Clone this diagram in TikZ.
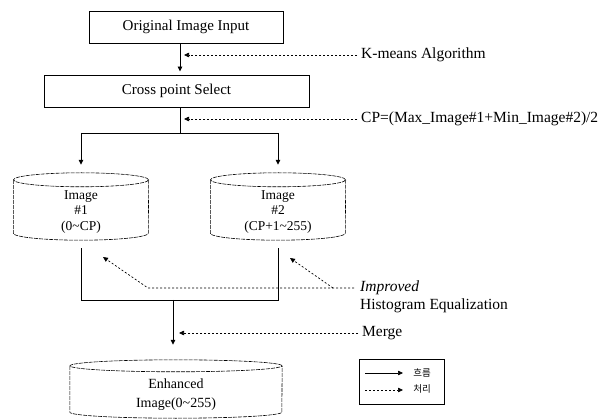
\documentclass[tikz,border=0pt]{standalone}
\usepackage{fontspec}
\setmainfont{Liberation Serif}
\newfontfamily\krfont{Noto Sans CJK KR}
\usetikzlibrary{arrows.meta}

% outline of a drum (cylinder) around a rectangular node: #1 name, #2 x radius, #3 y radius
\newcommand\drawdrum[3]{%
  \draw[drumline] ([yshift=-#3]#1.north) ellipse [x radius=#2, y radius=#3];
  \draw[drumline] ([yshift=-#3]#1.north west) -- ([yshift=#3]#1.south west)
    arc[start angle=180, end angle=360, x radius=#2, y radius=#3]
    -- ([yshift=-#3]#1.north east);
}

\begin{document}
\begin{tikzpicture}[x=1pt, y=-1pt,
  every node/.style={font=\fontsize{15.5}{18}\selectfont},
  stepbox/.style={draw, line width=0.9pt, minimum height=32pt, inner sep=0pt, font=\fontsize{15}{18}\selectfont},
  flow/.style={line width=0.9pt, -{Triangle[length=5pt,width=4.5pt]}},
  proc/.style={line width=0.7pt, dash pattern=on 2pt off 2pt, -{Triangle[length=5pt,width=4.5pt]}},
  drum/.style={inner sep=0pt, minimum width=135pt, minimum height=67pt},
  drumline/.style={line width=0.6pt, dash pattern=on 4pt off 1pt},
  drumtext/.style={align=center, inner sep=0pt, font=\fontsize{13.5}{15.5}\selectfont},
  ann/.style={anchor=west, inner sep=0pt},
  legtext/.style={font=\krfont\fontsize{9.5}{11}\selectfont, inner sep=0pt}
]
\useasboundingbox (0,0) rectangle (610,419);

% process boxes
\node[stepbox, minimum width=194pt] (input) at (186,27) {Original Image Input};
\node[stepbox, minimum width=265pt] (select) at (176.5,91) {Cross point Select};

% image stores
\node[drum] (img1) at (81,206.5) {};
\node[drum] (img2) at (278,206.5) {};
\node[drum, minimum width=212pt, minimum height=58pt] (enh) at (176,389) {};
\drawdrum{img1}{67.5pt}{7pt}
\drawdrum{img2}{67.5pt}{7pt}
\drawdrum{enh}{106pt}{6pt}
\node[drumtext] (img1txt) at (81,212) {Image\\\#1\\(0\textasciitilde CP)};
\node[drumtext] (img2txt) at (278,212) {Image\\\#2\\(CP+1\textasciitilde 255)};
\node[drumtext, font=\fontsize{14}{19}\selectfont] (enhtxt) at (176,395) {Enhanced\\Image(0\textasciitilde 255)};

% main flow
\coordinate (trunk) at (180,55);
\coordinate (split) at (180,133);
\coordinate (join) at (173,300);
\draw[flow] (input.south -| trunk) -- ([yshift=3pt]select.north -| trunk);
\draw[line width=0.9pt] (select.south -| split) -- (split);
\draw[line width=0.9pt] (img1.north |- split) -- (img2.north |- split);
\draw[flow] (img1.north |- split) -- ([yshift=8pt]img1.north);
\draw[flow] (img2.north |- split) -- ([yshift=8pt]img2.north);
\draw[line width=0.9pt] ([yshift=-8pt]img1.south) -- (img1.south |- join)
  -- (img2.south |- join) -- ([yshift=-8pt]img2.south);
\draw[flow] (join) -- ([yshift=15pt]enh.north -| join);

% processing annotations
\node[ann] (kmeans) at (361,55) {K-means Algorithm};
\node[ann] (cpdef) at (361,119) {CP=(Max\_Image\#1+Min\_Image\#2)/2};
\node[ann, align=left] (hist) at (360,297) {\textit{Improved}\\Histogram Equalization};
\node[ann] (merge) at (362,333) {Merge};
\coordinate (cp) at (180,119);
\coordinate (mg) at (173,333);
\coordinate (h1) at (148,288);
\coordinate (h2) at (333,288);
\coordinate (a1) at (103,257);
\coordinate (a2) at (290,258);
\draw[proc] ([xshift=-4pt]kmeans.west) -- ([xshift=4pt]trunk);
\draw[proc] ([xshift=-4pt]cpdef.west) -- ([xshift=4pt]cp);
\draw[proc] ([xshift=-6pt]hist.west |- h1) -- (h1) -- (a1);
\draw[proc] (h2) -- (a2);
\draw[proc] ([xshift=-4pt]merge.west) -- ([xshift=6pt]mg);

% legend
\node[draw, line width=0.8pt, minimum width=85pt, minimum height=45pt, inner sep=0pt] (legend) at (401.5,381.5) {};
\coordinate (l1a) at (365,373);
\coordinate (l1b) at (403,373);
\coordinate (l2a) at (365,390);
\coordinate (l2b) at (403,390);
\draw[flow, line width=0.6pt] (l1a) -- (l1b);
\draw[proc, line width=0.6pt] (l2a) -- (l2b);
\node[legtext] (flowtxt) at (422,373) {흐름};
\node[legtext] (proctxt) at (422,389) {처리};
\end{tikzpicture}
\end{document}
